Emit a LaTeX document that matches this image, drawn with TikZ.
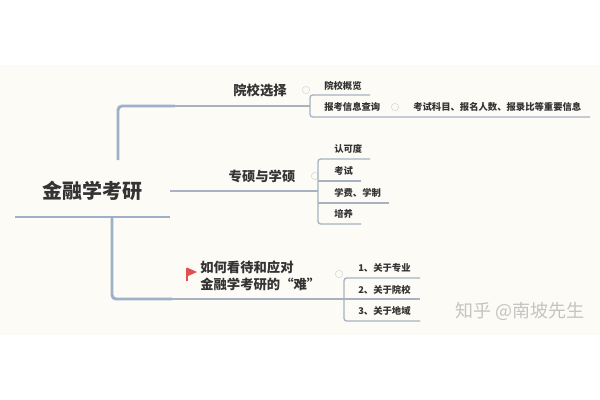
\documentclass[tikz,border=0pt]{standalone}
\usepackage{fontspec}
\setmainfont{Noto Sans CJK SC}
\definecolor{paper}{HTML}{FDFBF5}
\definecolor{trunk}{HTML}{9FB1CA}
\definecolor{twig}{HTML}{A8B2C2}
\definecolor{ink}{HTML}{333333}
\definecolor{mark}{HTML}{C4C4C4}
\definecolor{flagred}{HTML}{E0504F}
\begin{document}
\begin{tikzpicture}[x=0.75pt, y=-0.75pt,
        rootnode/.style = {inner sep=0pt, text=ink, font=\fontsize{15}{18}\selectfont\bfseries},
        topic/.style = {inner sep=0pt, text=ink, font=\fontsize{10}{12.8}\selectfont\bfseries, align=left},
        leaf/.style = {inner sep=0pt, anchor=west, text=ink, font=\fontsize{7}{9}\selectfont\bfseries},
        fork/.style = {inner sep=0pt, circle, draw=mark!70, minimum size=5.5pt, line width=0.4pt},
        thick line/.style = {draw=trunk, line width=2.2pt, rounded corners=3pt},
        thin line/.style = {draw=twig, line width=1pt, rounded corners=2pt}]
    \useasboundingbox (0,0) rectangle (600,400);
    \fill[white] (0,0) rectangle (600,400);
    \fill[paper] (0,65) rectangle (600,335);

    % centre
    \node[rootnode] (root) at (92,191) {金融学考研};
    \coordinate (rootL) at (15,217);
    \coordinate (rootR) at (170,217);
    \coordinate (up) at (118,217);
    \coordinate (upEnd) at (118,160);
    \coordinate (down) at (112,217);
    \draw[thick line] (rootL) -- (rootR);

    % first branch
    \node[topic] (school) at (260,90) {院校选择};
    \node[fork] (fork1) at (306,90) {};
    \node[leaf] (survey) at (324,86) {院校概览};
    \node[leaf] (query) at (324,107) {报考信息查询};
    \node[fork] (fork2) at (395,107) {};
    \node[leaf] (info) at (413,107) {考试科目、报名人数、报录比等重要信息};
    \coordinate (b1) at (310,106);
    \coordinate (b1a) at (370,95);
    \coordinate (b1b) at (590,117);
    \draw[thick line] (upEnd) |- (175,106);
    \draw[thin line, line width=1.3pt] (175,106) -- (b1);
    \draw[thin line] (b1a) -- (310,95) -- (310,117) -- (b1b);

    % second branch
    \node[topic] (degree) at (262,176) {专硕与学硕};
    \node[fork] (fork3) at (315,176) {};
    \node[leaf] (accept) at (334,149) {认可度};
    \node[leaf] (exam) at (334,171) {考试};
    \node[leaf] (fee) at (334,192.5) {学费、学制};
    \node[leaf] (train) at (334,214) {培养};
    \coordinate (b2) at (318,191);
    \coordinate (b2a) at (370,159);
    \coordinate (b2b) at (361,181);
    \coordinate (b2c) at (389,203);
    \coordinate (b2d) at (361,224);
    \draw[thin line, line width=1.3pt] (170,191) -- (b2);
    \draw[thin line] (b2a) -- (318,159) -- (318,224) -- (b2d);
    \draw[thin line] (318,181) -- (b2b);
    \draw[thin line] (318,203) -- (b2c);

    % third branch
    \node[topic, anchor=west] (hard) at (200,275.5) {如何看待和应对\\金融学考研的“难”};
    \node[fork] (fork4) at (339,274) {};
    \node[leaf] (one) at (358,268) {1、关于专业};
    \node[leaf] (two) at (358,290) {2、关于院校};
    \node[leaf] (three) at (358,311) {3、关于地域};
    \coordinate (b3) at (344,299);
    \coordinate (b3a) at (420,278);
    \coordinate (b3b) at (420,299);
    \coordinate (b3c) at (420,321);
    \draw[thick line] (down) |- (172,299);
    \draw[thin line, line width=1.3pt] (172,299) -- (b3);
    \draw[thin line] (b3a) -- (344,278) -- (344,321) -- (b3c);
    \draw[thin line] (b3) -- (b3b);

    % flag
    \draw[flagred, line width=1.4pt] (187,268) -- (187,281);
    \fill[flagred] (187,267.5) -- (197,272) -- (187,276.5) -- cycle;

    \node[inner sep=0pt, text=mark, font=\fontsize{13.5}{15}\selectfont] (stamp) at (520,311) {知乎 @南坡先生};
\end{tikzpicture}
\end{document}
